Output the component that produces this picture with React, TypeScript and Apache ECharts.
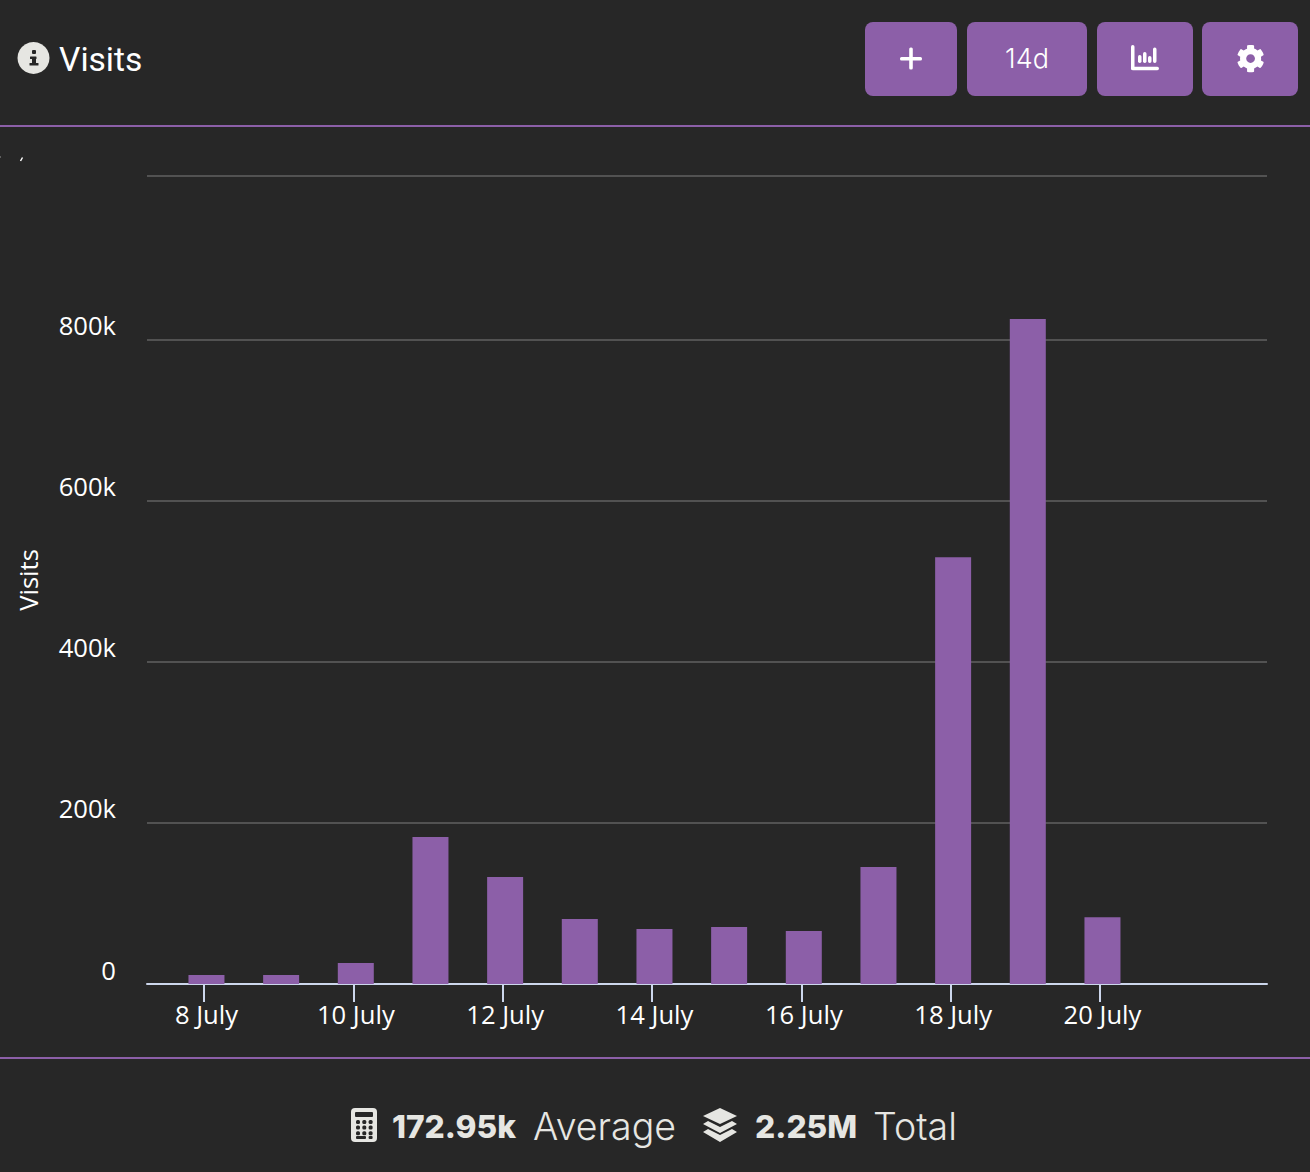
import React, { useEffect, useRef } from 'react';
import * as echarts from 'echarts';

const days = [8, 9, 10, 11, 12, 13, 14, 15, 16, 17, 18, 19, 20];
const visits = [11200, 11200, 26000, 182600, 133000, 80700, 68300, 70800, 65800, 145300, 530000, 826000, 83000];
const xTicks = [8, 10, 12, 14, 16, 18, 20];
const yLabels = [0, 200000, 400000, 600000, 800000];
const yLines = [0, 200000, 400000, 600000, 800000, 1003700];

const PURPLE = '#8c5fa8';
const BG = '#272727';
const LIGHT = '#e6e6e2';
const LABEL_FONT = '"Open Sans", sans-serif';
const UI_FONT = 'Inter, sans-serif';

const gearPath =
  'M487.4 315.7l-42.6-24.6c4.3-23.2 4.3-47 0-70.2l42.6-24.6c4.9-2.8 7.1-8.6 5.5-14-11.1-35.6-30-67.8-54.7-94.6-3.8-4.1-10-5.1-14.8-2.3L380.8 110c-17.9-15.4-38.5-27.3-60.8-35.1V25.8c0-5.6-3.9-10.5-9.4-11.7-36.7-8.2-74.3-7.8-109.2 0-5.5 1.2-9.4 6.1-9.4 11.7V75c-22.2 7.9-42.8 19.8-60.8 35.1L88.7 85.5c-4.9-2.8-11-1.9-14.8 2.3-24.7 26.7-43.6 58.9-54.7 94.6-1.7 5.4.6 11.2 5.5 14L67.3 221c-4.3 23.2-4.3 47 0 70.2l-42.6 24.6c-4.9 2.8-7.1 8.6-5.5 14 11.1 35.6 30 67.8 54.7 94.6 3.8 4.1 10 5.1 14.8 2.3l42.6-24.6c17.9 15.4 38.5 27.3 60.8 35.1v49.2c0 5.6 3.9 10.5 9.4 11.7 36.7 8.2 74.3 7.8 109.2 0 5.5-1.2 9.4-6.1 9.4-11.7v-49.2c22.2-7.9 42.8-19.8 60.8-35.1l42.6 24.6c4.9 2.8 11 1.9 14.8-2.3 24.7-26.7 43.6-58.9 54.7-94.6 1.5-5.5-.7-11.3-5.6-14.1zM256 336c-44.1 0-80-35.9-80-80s35.9-80 80-80 80 35.9 80 80-35.9 80-80 80z';
echarts.graphic.registerShape('gear', echarts.graphic.extendPath(gearPath, {}));

const box = (x: number, y: number, width: number, height: number, r: number, fill: string) => ({
  type: 'rect',
  shape: { x, y, width, height, r },
  style: { fill },
});

const label = (x: number, y: number, text: string, font: string, fill = LIGHT, align = 'left') => ({
  type: 'text',
  x,
  y,
  style: { text, font, fill, textAlign: align, textVerticalAlign: 'middle' },
});

const calculatorKeys = [0, 1, 2].flatMap((row) =>
  [0, 1, 2].map((col) => box(356 + col * 6.3, 1120 + row * 5.6, 4, 4, 1.5, BG)),
);

const graphics = [
  // rules under the header and above the footer
  box(0, 125, 1310, 2, 0, PURPLE),
  box(0, 1057, 1310, 2, 0, PURPLE),

  // info icon and title
  { type: 'circle', shape: { cx: 33.5, cy: 58, r: 16 }, style: { fill: LIGHT } },
  box(32, 50, 4, 4, 1, BG),
  box(30, 56.5, 6.5, 2.5, 0.5, BG),
  box(32, 58, 4, 7, 0, BG),
  box(29.5, 63, 9, 2.5, 0.5, BG),
  label(59, 59, 'Visits', '400 33.6px Roboto, sans-serif', '#ffffff'),

  // header buttons
  box(865, 22, 92, 74, 8, PURPLE),
  box(967, 22, 120, 74, 8, PURPLE),
  box(1097, 22, 96, 74, 8, PURPLE),
  box(1202, 22, 96, 74, 8, PURPLE),
  box(900, 57, 22, 3.6, 1.5, '#ffffff'),
  box(909.2, 47.5, 3.6, 22, 1.5, '#ffffff'),
  label(1027, 58, '14d', '300 27px ' + UI_FONT, '#ffffff', 'center'),
  box(1131, 45, 3.5, 25, 1.7, '#ffffff'),
  box(1131, 66.8, 28, 3.5, 1.7, '#ffffff'),
  box(1138, 55, 3.5, 8, 1.7, '#ffffff'),
  box(1143, 52, 3.5, 11, 1.7, '#ffffff'),
  box(1148, 56, 3.5, 7, 1.7, '#ffffff'),
  box(1153, 47.5, 3.5, 15.5, 1.7, '#ffffff'),
  { type: 'gear', x: 1236.5, y: 44.5, scaleX: 0.0547, scaleY: 0.0547, style: { fill: '#ffffff' } },

  // footer stats
  box(351, 1108, 26, 34, 4, LIGHT),
  box(355, 1112, 18, 5, 1, BG),
  ...calculatorKeys,
  box(356, 1136, 10, 3, 1, BG),
  box(368.6, 1136, 4, 3, 1, BG),
  label(392, 1126, '172.95k', '800 31.7px ' + UI_FONT),
  label(533, 1126, 'Average', '300 37.5px ' + UI_FONT),
  { type: 'polygon', shape: { points: [[720, 1108], [737, 1116], [720, 1124], [703, 1116]] }, style: { fill: LIGHT } },
  { type: 'polygon', shape: { points: [[708, 1121], [720, 1127], [732, 1121], [737, 1124], [720, 1133], [703, 1124]] }, style: { fill: LIGHT } },
  { type: 'polygon', shape: { points: [[708, 1129], [720, 1135], [732, 1129], [737, 1132], [720, 1142], [703, 1132]] }, style: { fill: LIGHT } },
  label(755, 1126, '2.25M', '800 31.7px ' + UI_FONT),
  label(873, 1126, 'Total', '300 37.5px ' + UI_FONT),

  // clipped remnant of the hidden top axis label
  { type: 'line', shape: { x1: 20.5, y1: 161, x2: 22.5, y2: 157.5 }, style: { stroke: '#ffffff', lineWidth: 1.5 } },
  box(0, 156.5, 1, 1, 0, '#9a9a9a'),
];

export default function App() {
  const chartRef = useRef<HTMLDivElement>(null);

  useEffect(() => {
    if (!chartRef.current) return;
    const chart = echarts.init(chartRef.current, null, { renderer: 'svg' });

    chart.setOption({
      animation: false,
      backgroundColor: BG,
      grid: { left: 147, right: 43, top: 176, bottom: 188, outerBoundsMode: 'none' },
      xAxis: {
        type: 'value',
        min: 7.2366,
        max: 22.2366,
        splitLine: { show: false },
        axisLine: { show: true, onZero: false, lineStyle: { color: '#ccd6eb', width: 2 } },
        axisTick: {
          show: true,
          length: 18,
          customValues: xTicks,
          lineStyle: { color: '#ccd6eb', width: 2 },
        },
        axisLabel: {
          customValues: xTicks,
          formatter: (v: number) => `${v} July`,
          color: '#ffffff',
          fontFamily: LABEL_FONT,
          fontSize: 25.6,
          margin: 17,
          padding: [0, 0, 0, 5],
        },
      },
      yAxis: {
        type: 'value',
        min: 0,
        max: 1003700,
        name: 'Visits',
        nameLocation: 'middle',
        nameGap: 106,
        nameTextStyle: { color: '#ffffff', fontFamily: LABEL_FONT, fontSize: 25.6 },
        axisLine: { show: false },
        axisTick: { show: false, customValues: yLines },
        splitLine: { lineStyle: { color: '#525252', width: 2 } },
        axisLabel: {
          customValues: yLabels,
          formatter: (v: number) => (v === 0 ? '0' : `${v / 1000}k`),
          color: '#ffffff',
          fontFamily: LABEL_FONT,
          fontSize: 25.6,
          margin: 31,
          verticalAlign: 'bottom',
          lineHeight: 28,
        },
      },
      series: [
        {
          type: 'bar',
          barWidth: 36,
          itemStyle: { color: PURPLE },
          data: days.map((d, i) => [d + 0.033, visits[i]]),
        },
      ],
      graphic: { elements: graphics },
    });

    return () => {
      chart.dispose();
    };
  }, []);

  return <div ref={chartRef} style={{ position: 'absolute', left: 0, top: 0, width: 1310, height: 1172 }} />;
}
